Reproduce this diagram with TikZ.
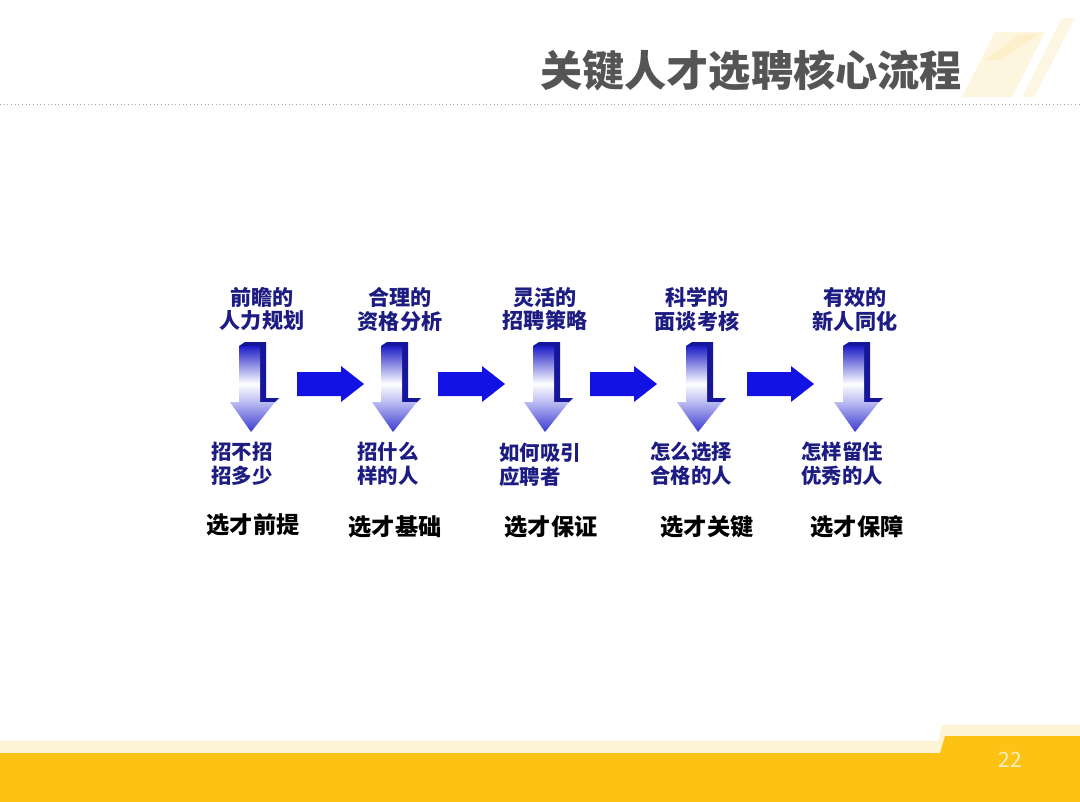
\documentclass[tikz,border=0pt]{standalone}
\usepackage{fontspec}
\setmainfont{Noto Sans CJK SC}
\newfontfamily\cjk{Noto Sans CJK SC}
\usetikzlibrary{calc}
\definecolor{titlegray}{HTML}{555555}
\definecolor{navytxt}{HTML}{1C1C82}
\definecolor{arrblue}{HTML}{1212E4}
\definecolor{darkside}{HTML}{16169A}
\definecolor{topc}{HTML}{1E1EC8}
\definecolor{tipc}{HTML}{3A3AD0}
\definecolor{headc}{HTML}{B8B8F2}
\definecolor{footy}{HTML}{FCC214}
\definecolor{cream}{HTML}{FCEFC4}
\definecolor{decoy}{HTML}{FBE3A0}
\pgfdeclareverticalshading{darrowshade}{100bp}{color(0bp)=(tipc); color(25bp)=(tipc); color(42bp)=(headc); color(53bp)=(white); color(75bp)=(topc); color(100bp)=(topc)}
\tikzset{
  toplabel/.style={font=\cjk\bfseries\fontsize{15pt}{17pt}\selectfont, text=navytxt, align=center, inner sep=0pt},
  botlabel/.style={font=\cjk\bfseries\fontsize{14.5pt}{17pt}\selectfont, text=navytxt, align=left, inner sep=0pt, anchor=west},
  steplabel/.style={font=\cjk\bfseries\fontsize{16.5pt}{19pt}\selectfont, text=black, inner sep=0pt},
  rblock/.style={fill=arrblue, draw=none},
  dback/.style={fill=darkside, draw=none},
  dfront/.style={shading=darrowshade, draw=none},
}
\begin{document}
\begin{tikzpicture}[x=0.025cm, y=-0.025cm]
\useasboundingbox (0,0) rectangle (1080,802);
\fill[white] (0,0) rectangle (1080,802);
% top-right decoration
\fill[decoy, opacity=0.35] (962,97) -- (1012,97) -- (1045,32) -- (995,32) -- cycle;
\fill[decoy, opacity=0.3] (985,60) -- (1000,60) -- (1040,34) -- (1020,34) -- cycle;
\fill[decoy, opacity=0.3] (1022,97) -- (1034,97) -- (1075,18) -- (1062,18) -- cycle;
% title
\node[font=\cjk\bfseries\fontsize{30pt}{32pt}\selectfont, text=titlegray, inner sep=0pt] (title) at (751,71) {关键人才选聘核心流程};
% dotted rule
\draw[gray!70, dotted, line width=0.6pt] (0,104) -- (1080,104);
% footer
\fill[cream!70!white] (0,741) -- (938,741) -- (942,725) -- (1080,725) -- (1080,802) -- (0,802) -- cycle;
\fill[footy] (0,753) -- (940,753) -- (945,736) -- (1080,736) -- (1080,802) -- (0,802) -- cycle;
\node[font=\fontsize{15pt}{17pt}\selectfont, text=cream, inner sep=0pt] (pnum) at (1010,760) {22};

% down arrows
\foreach \c/\n in {253/d1, 395/d2, 547/d3, 700/d4, 857/d5}{
  \fill[dback] ({\c-8},342) -- ({\c+13},342) -- ({\c+13},398) -- ({\c+26},398) -- ({\c+22},402) -- ({\c-14},402) -- ({\c-14},346) -- cycle;
  \path[dfront] ({\c-14},346) -- ({\c+7},346) -- ({\c+7},402) -- ({\c+22},402) -- ({\c-2},432) -- ({\c-23},402) -- ({\c-14},402) -- cycle;
  \coordinate (\n) at (\c,388);
}
% right arrows
\foreach \x/\n in {297/r1, 438/r2, 590/r3, 747/r4}{
  \fill[rblock] (\x,372) -- ({\x+44},372) -- ({\x+44},366) -- ({\x+67},384) -- ({\x+44},402) -- ({\x+44},396) -- (\x,396) -- cycle;
  \coordinate (\n) at ({\x+33},384);
}

% top labels
\node[toplabel] (t1) at (262,309) {前瞻的\\人力规划};
\node[toplabel] (t2) at (400,309) {合理的\\资格分析};
\node[toplabel] (t3) at (545,309) {灵活的\\招聘策略};
\node[toplabel] (t4) at (697,309) {科学的\\面谈考核};
\node[toplabel] (t5) at (855,309) {有效的\\新人同化};

% bottom blue labels
\node[botlabel] (b1) at (211,464) {招不招\\招多少};
\node[botlabel] (b2) at (357,464) {招什么\\样的人};
\node[botlabel] (b3) at (499,465) {如何吸引\\应聘者};
\node[botlabel] (b4) at (650,464) {怎么选择\\合格的人};
\node[botlabel] (b5) at (801,464) {怎样留住\\优秀的人};

% step labels
\node[steplabel] (s1) at (253,525) {选才前提};
\node[steplabel] (s2) at (395,527) {选才基础};
\node[steplabel] (s3) at (551,527) {选才保证};
\node[steplabel] (s4) at (707,527) {选才关键};
\node[steplabel] (s5) at (857,527) {选才保障};
\end{tikzpicture}
\end{document}
